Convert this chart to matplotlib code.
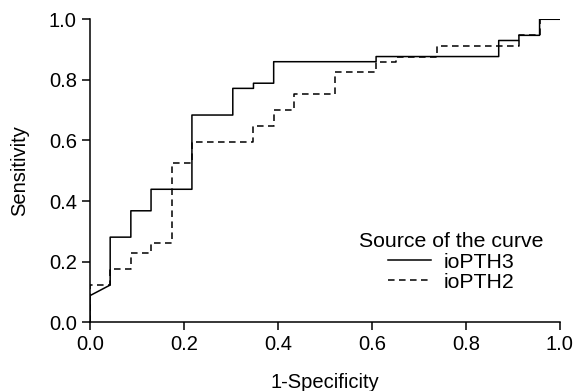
import matplotlib.pyplot as plt

plt.rcParams['font.family'] = ['Liberation Sans', 'DejaVu Sans']

# ROC step points (1-specificity, sensitivity)
fpr_pth3 = [0.0, 0.0, 0.043, 0.043, 0.087, 0.087, 0.130, 0.130, 0.217, 0.217,
            0.304, 0.304, 0.348, 0.348, 0.391, 0.391, 0.609, 0.609, 0.870, 0.870,
            0.913, 0.913, 0.957, 0.957, 1.0]
tpr_pth3 = [0.0, 0.088, 0.123, 0.281, 0.281, 0.368, 0.368, 0.439, 0.439, 0.684,
            0.684, 0.772, 0.772, 0.789, 0.789, 0.860, 0.860, 0.877, 0.877, 0.930,
            0.930, 0.947, 0.947, 1.0, 1.0]

fpr_pth2 = [0.0, 0.0, 0.043, 0.043, 0.087, 0.087, 0.130, 0.130, 0.174, 0.174,
            0.217, 0.217, 0.348, 0.348, 0.391, 0.391, 0.435, 0.435, 0.522, 0.522,
            0.609, 0.609, 0.652, 0.652, 0.739, 0.739, 0.913, 0.913, 0.957, 0.957, 1.0]
tpr_pth2 = [0.0, 0.123, 0.123, 0.175, 0.175, 0.228, 0.228, 0.263, 0.263, 0.526,
            0.526, 0.596, 0.596, 0.649, 0.649, 0.702, 0.702, 0.754, 0.754, 0.825,
            0.825, 0.860, 0.860, 0.877, 0.877, 0.912, 0.912, 0.947, 0.947, 1.0, 1.0]

ticks = [0.0, 0.2, 0.4, 0.6, 0.8, 1.0]

fig = plt.figure(figsize=(5.85, 3.91), dpi=100)
ax = fig.add_axes([0.1538, 0.1757, 0.8031, 0.775])

ax.plot(fpr_pth3, tpr_pth3, color='black', lw=1.1, label='ioPTH3')
ax.plot(fpr_pth2, tpr_pth2, color='black', lw=1.1, dashes=(4.3, 2.9), label='ioPTH2')

ax.set_xlim(0, 1)
ax.set_ylim(0, 1)
ax.set_xticks(ticks)
ax.set_yticks(ticks)
ax.set_xticklabels([f'{t:.1f}' for t in ticks])
ax.set_yticklabels([f'{t:.1f}' for t in ticks])
ax.tick_params(direction='out', length=5.5, width=1.1, labelsize=14.5, pad=4)
for s in ['top', 'right']:
    ax.spines[s].set_visible(False)
for s in ['left', 'bottom']:
    ax.spines[s].set_linewidth(1.1)

ax.set_xlabel('1-Specificity', fontsize=14.5, labelpad=13)
ax.set_ylabel('Sensitivity', fontsize=14.5, labelpad=14)

leg = ax.legend(title='Source of the curve', loc='center', frameon=False,
                bbox_to_anchor=(451 / 585, 1 - 262 / 391), bbox_transform=fig.transFigure,
                fontsize=15.3, title_fontsize=15.3, handlelength=2.0,
                handletextpad=0.6, labelspacing=0.05, borderpad=0)

fig.savefig('out.png', dpi=100)
